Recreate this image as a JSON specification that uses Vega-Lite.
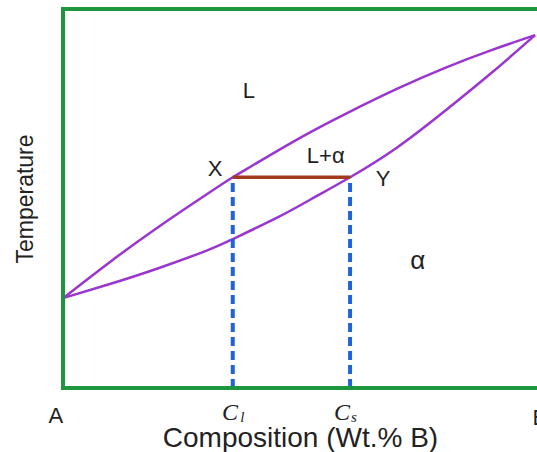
{
  "$schema": "https://vega.github.io/schema/vega-lite/v6.json",
  "width": 474,
  "height": 379,
  "autosize": {"type": "none"},
  "padding": {"left": 63, "top": 9, "right": 0, "bottom": 64},
  "background": "white",
  "config": {"view": {"stroke": null}},
  "datasets": {
    "curves": [
      {"curve": "liquidus", "x": 0, "y": 23.7},
      {"curve": "liquidus", "x": 10, "y": 33.4},
      {"curve": "liquidus", "x": 20, "y": 42.5},
      {"curve": "liquidus", "x": 30, "y": 51.0},
      {"curve": "liquidus", "x": 35.6, "y": 55.6},
      {"curve": "liquidus", "x": 40, "y": 58.9},
      {"curve": "liquidus", "x": 50, "y": 66.2},
      {"curve": "liquidus", "x": 60, "y": 72.8},
      {"curve": "liquidus", "x": 70, "y": 78.9},
      {"curve": "liquidus", "x": 80, "y": 84.4},
      {"curve": "liquidus", "x": 90, "y": 89.2},
      {"curve": "liquidus", "x": 99, "y": 93.1},
      {"curve": "solidus", "x": 0, "y": 23.7},
      {"curve": "solidus", "x": 10, "y": 27.5},
      {"curve": "solidus", "x": 20, "y": 31.6},
      {"curve": "solidus", "x": 30, "y": 36.2},
      {"curve": "solidus", "x": 35.6, "y": 39.3},
      {"curve": "solidus", "x": 45, "y": 45.0},
      {"curve": "solidus", "x": 52, "y": 49.8},
      {"curve": "solidus", "x": 60.2, "y": 55.6},
      {"curve": "solidus", "x": 70, "y": 63.4},
      {"curve": "solidus", "x": 80, "y": 73.0},
      {"curve": "solidus", "x": 90, "y": 83.3},
      {"curve": "solidus", "x": 99, "y": 93.1}
    ],
    "frame": [
      {"x": 0, "y": 0, "x2": 0, "y2": 100},
      {"x": 0, "y": 100, "x2": 99.4, "y2": 100},
      {"x": 0, "y": 0, "x2": 99.4, "y2": 0}
    ],
    "dashes": [
      {"x": 35.6, "y": 0, "y2": 55.6},
      {"x": 60.2, "y": 0, "y2": 55.6}
    ],
    "tie": [
      {"x": 35.6, "x2": 60.2, "y": 55.6}
    ],
    "labels": [
      {"x": 39.0, "y": 78.4, "text": "L"},
      {"x": 55.1, "y": 61.2, "text": "L+α"},
      {"x": 31.9, "y": 57.8, "text": "X"},
      {"x": 67.1, "y": 55.1, "text": "Y"},
      {"x": -1.5, "y": -7.4, "text": "A"},
      {"x": 100.0, "y": -7.9, "text": "B"}
    ],
    "greek": [
      {"x": 74.4, "y": 33.6, "text": "α"}
    ],
    "comps": [
      {"x": 35.0, "y": -6.6, "text": "C"},
      {"x": 58.5, "y": -6.6, "text": "C"}
    ],
    "subs": [
      {"x": 37.6, "y": -7.6, "text": "l"},
      {"x": 61.0, "y": -7.6, "text": "s"}
    ]
  },
  "encoding": {
    "x": {
      "field": "x", "type": "quantitative",
      "scale": {"domain": [0, 99.4], "nice": false, "zero": false},
      "axis": {"domain": false, "ticks": false, "labels": false, "grid": false,
               "title": "Composition (Wt.% B)", "titleFont": "Liberation Sans",
               "titleFontSize": 28, "titleFontWeight": "normal", "titleColor": "#222222",
               "titlePadding": 36}
    },
    "y": {
      "field": "y", "type": "quantitative",
      "scale": {"domain": [0, 100], "nice": false, "zero": false},
      "axis": {"domain": false, "ticks": false, "labels": false, "grid": false,
               "title": "Temperature", "titleFont": "Liberation Sans",
               "titleFontSize": 23, "titleFontWeight": "normal", "titleColor": "#222222",
               "titlePadding": 26}
    }
  },
  "layer": [
    {
      "data": {"name": "curves"},
      "mark": {"type": "line", "color": "#9a36cf", "strokeWidth": 2.5, "interpolate": "natural"},
      "encoding": {"detail": {"field": "curve"}}
    },
    {
      "data": {"name": "dashes"},
      "mark": {"type": "rule", "color": "#1f63d8", "strokeWidth": 4, "strokeDash": [9, 5]},
      "encoding": {"y2": {"field": "y2"}}
    },
    {
      "data": {"name": "tie"},
      "mark": {"type": "rule", "color": "#a33a1c", "strokeWidth": 3.5},
      "encoding": {"x2": {"field": "x2"}}
    },
    {
      "data": {"name": "frame"},
      "mark": {"type": "rule", "color": "#1e9640", "strokeWidth": 4, "strokeCap": "square"},
      "encoding": {"x2": {"field": "x2"}, "y2": {"field": "y2"}}
    },
    {
      "data": {"name": "labels"},
      "mark": {"type": "text", "font": "Liberation Sans", "fontSize": 22, "color": "#222222", "baseline": "middle", "align": "center"},
      "encoding": {"text": {"field": "text"}}
    },
    {
      "data": {"name": "greek"},
      "mark": {"type": "text", "font": "Liberation Sans", "fontSize": 26, "color": "#222222", "baseline": "middle", "align": "center"},
      "encoding": {"text": {"field": "text"}}
    },
    {
      "data": {"name": "comps"},
      "mark": {"type": "text", "font": "Liberation Serif", "fontStyle": "italic", "fontSize": 24, "color": "#222222", "baseline": "middle", "align": "center"},
      "encoding": {"text": {"field": "text"}}
    },
    {
      "data": {"name": "subs"},
      "mark": {"type": "text", "font": "Liberation Serif", "fontStyle": "italic", "fontSize": 15, "color": "#222222", "baseline": "middle", "align": "center"},
      "encoding": {"text": {"field": "text"}}
    }
  ]
}
